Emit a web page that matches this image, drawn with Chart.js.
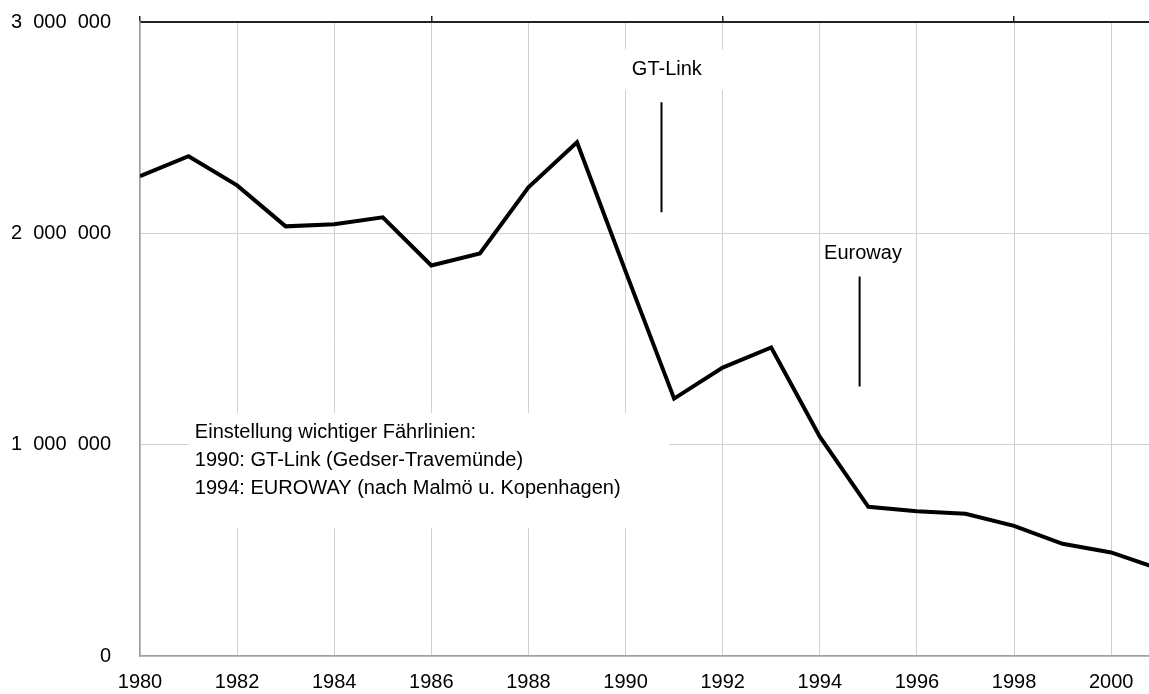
<!DOCTYPE html>
<html>
<head>
<meta charset="utf-8">
<script src="https://cdn.jsdelivr.net/npm/chart.js@4.4.1/dist/chart.umd.min.js"></script>
<style>
  html, body { margin: 0; padding: 0; background: #fff; }
  #wrap { width: 1149px; height: 694px; position: relative; }
</style>
</head>
<body>
<div id="wrap"><canvas id="chart"></canvas></div>
<script>
// Passagiere pro Jahr, 1980-2001
const years = [1980, 1981, 1982, 1983, 1984, 1985, 1986, 1987, 1988, 1989, 1990,
               1991, 1992, 1993, 1994, 1995, 1996, 1997, 1998, 1999, 2000, 2001];
const passengers = [2270000, 2365000, 2227000, 2033000, 2043000, 2076000, 1848000, 1905000,
                    2218000, 2431000, 1820000, 1218000, 1365000, 1460000, 1038000, 706000,
                    685000, 673000, 616000, 531000, 490000, 412000];
const yTicks = [0, 1000000, 2000000, 3000000];

const noteLines = [
  'Einstellung wichtiger Fährlinien:',
  '1990: GT-Link (Gedser-Travemünde)',
  '1994: EUROWAY (nach Malmö u. Kopenhagen)'
];

// marker lines for the two closed routes
const gtLinkMarker = [{ x: 1990.74, y: 2620000 }, { x: 1990.74, y: 2100000 }];
const eurowayMarker = [{ x: 1994.82, y: 1796000 }, { x: 1994.82, y: 1275000 }];

const FONT = '"Liberation Sans", Arial, sans-serif';
const FONT_SIZE = 20;

function fmt(v) {
  return Math.round(v).toString().replace(/\B(?=(\d{3})+(?!\d))/g, '  ');
}

function noPadding(scale) {
  scale.paddingTop = 0;
  scale.paddingBottom = 0;
  scale.paddingLeft = 0;
  scale.paddingRight = 0;
}

// labels with white boxes, drawn under the data line
const notesPlugin = {
  id: 'notes',
  beforeDatasetsDraw(chart) {
    const { ctx, scales: { x, y } } = chart;
    ctx.save();
    ctx.fillStyle = '#fff';
    // box behind the note text
    const bx0 = x.getPixelForValue(1981.0), bx1 = x.getPixelForValue(1990.9);
    const by0 = y.getPixelForValue(1150000), by1 = y.getPixelForValue(605000);
    ctx.fillRect(bx0, by0, bx1 - bx0, by1 - by0);
    // box behind "GT-Link"
    const gx0 = x.getPixelForValue(1989.9), gx1 = x.getPixelForValue(1992.05);
    const gy0 = y.getPixelForValue(2870000), gy1 = y.getPixelForValue(2680000);
    ctx.fillRect(gx0, gy0, gx1 - gx0, gy1 - gy0);

    ctx.fillStyle = '#000';
    ctx.font = FONT_SIZE + 'px ' + FONT;
    ctx.textBaseline = 'middle';
    ctx.textAlign = 'center';
    ctx.fillText('GT-Link', x.getPixelForValue(1990.85), y.getPixelForValue(2777000));
    ctx.fillText('Euroway', x.getPixelForValue(1994.89), y.getPixelForValue(1905000));

    ctx.textAlign = 'left';
    const tx = x.getPixelForValue(1981.13);
    const rows = [1057000, 924000, 791000];
    noteLines.forEach((t, i) => ctx.fillText(t, tx, y.getPixelForValue(rows[i])));
    ctx.restore();
  }
};

new Chart(document.getElementById('chart'), {
  type: 'line',
  data: {
    datasets: [
      {
        data: years.map((yr, i) => ({ x: yr, y: passengers[i] })),
        borderColor: '#000',
        borderWidth: 4,
        pointRadius: 0,
        tension: 0,
        borderJoinStyle: 'miter'
      },
      {
        data: gtLinkMarker,
        borderColor: '#000',
        borderWidth: 2,
        pointRadius: 0
      },
      {
        data: eurowayMarker,
        borderColor: '#000',
        borderWidth: 2,
        pointRadius: 0
      }
    ]
  },
  options: {
    responsive: true,
    maintainAspectRatio: false,
    animation: false,
    layout: { padding: 0 },
    plugins: {
      legend: { display: false },
      tooltip: { enabled: false }
    },
    scales: {
      x: {
        type: 'linear',
        min: 1980,
        max: 2000.78,
        position: 'bottom',
        grid: { color: '#d0d0d0', lineWidth: 1, drawTicks: false },
        border: { color: '#a0a0a0', width: 1.5 },
        ticks: {
          stepSize: 2,
          includeBounds: false,
          padding: 14,
          color: '#000',
          font: { family: FONT, size: FONT_SIZE },
          callback: v => String(v)
        },
        afterFit(scale) { scale.height = 38; noPadding(scale); }
      },
      xTop: {
        type: 'linear',
        min: 1980,
        max: 2000.78,
        position: 'top',
        grid: { drawOnChartArea: false, drawTicks: true, tickLength: 6, color: '#222', lineWidth: 1.5 },
        border: { color: '#222', width: 2 },
        ticks: { stepSize: 6, includeBounds: false, display: false },
        afterFit(scale) { scale.height = 22; noPadding(scale); }
      },
      y: {
        min: 0,
        max: 3000000,
        afterBuildTicks(scale) { scale.ticks = yTicks.map(v => ({ value: v })); },
        grid: { color: '#d0d0d0', lineWidth: 1, drawTicks: false },
        border: { color: '#a0a0a0', width: 1.5 },
        ticks: {
          padding: 29,
          color: '#000',
          font: { family: FONT, size: FONT_SIZE },
          callback: v => fmt(v)
        },
        afterFit(scale) { scale.width = 140; noPadding(scale); }
      }
    }
  },
  plugins: [notesPlugin]
});
</script>
</body>
</html>
